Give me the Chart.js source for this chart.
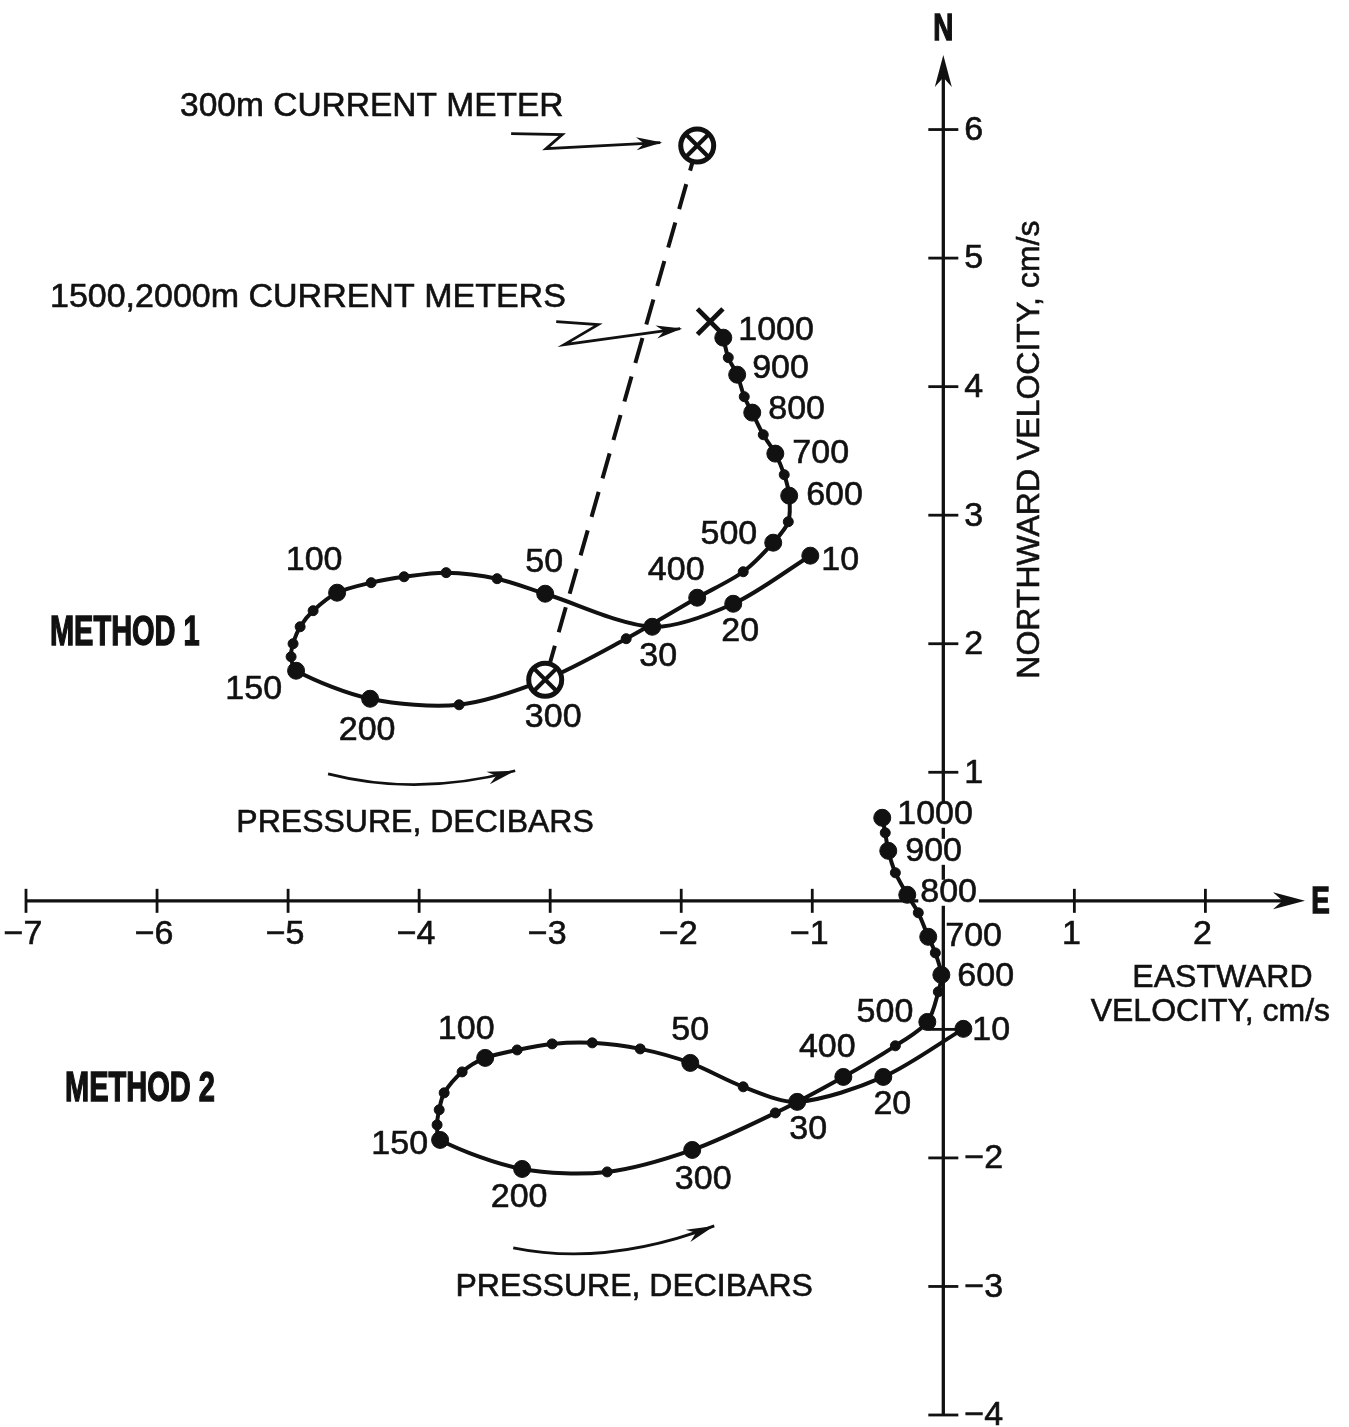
<!DOCTYPE html>
<html>
<head>
<meta charset="utf-8">
<script src="https://cdn.jsdelivr.net/npm/chart.js@4.4.1/dist/chart.umd.min.js"></script>
<style>
html,body{margin:0;padding:0;background:#fff;overflow:hidden;}
#c{display:block;}
</style>
</head>
<body>
<canvas id="c" width="1349" height="1427"></canvas>
<script>
// ---------------- DATA ----------------
const labeledPressures = [10,20,30,50,100,150,200,300,400,500,600,700,800,900,1000];

// Method 1 (pressure in decibars, eastward / northward velocity in cm/s)
const m1Pressure = [10,20,30,50,60,70,80,90,100,110,120,130,140,150,200,250,300,350,400,450,500,550,600,650,700,750,800,850,900,950,1000];
const m1East  = [-1.015,-1.603,-2.221,-3.038,-3.405,-3.794,-4.115,-4.366,-4.626,-4.809,-4.908,-4.962,-4.977,-4.939,-4.374,-3.695,-3.038,-2.420,-1.878,-1.527,-1.298,-1.183,-1.176,-1.214,-1.282,-1.374,-1.458,-1.519,-1.573,-1.641,-1.679];
const m1North = [2.685,2.311,2.132,2.389,2.506,2.553,2.521,2.475,2.397,2.257,2.132,2.000,1.899,1.790,1.572,1.525,1.720,2.039,2.358,2.560,2.786,2.949,3.152,3.315,3.479,3.626,3.798,3.922,4.093,4.226,4.381];

// Method 2
const m2Pressure = [10,20,30,40,50,60,70,80,90,100,110,120,130,140,150,200,250,300,350,400,450,500,550,600,650,700,750,800,850,900,950,1000];
const m2East  = [0.153,-0.458,-1.115,-1.527,-1.931,-2.313,-2.679,-2.985,-3.252,-3.496,-3.672,-3.809,-3.847,-3.863,-3.840,-3.214,-2.565,-1.916,-1.282,-0.763,-0.366,-0.122,-0.038,-0.015,-0.061,-0.115,-0.191,-0.275,-0.366,-0.420,-0.443,-0.466];
const m2North = [-0.996,-1.370,-1.564,-1.447,-1.261,-1.152,-1.105,-1.113,-1.160,-1.222,-1.331,-1.494,-1.626,-1.743,-1.860,-2.086,-2.109,-1.938,-1.650,-1.370,-1.128,-0.942,-0.708,-0.576,-0.405,-0.280,-0.093,0.047,0.218,0.389,0.529,0.646];

// Current meters
const meter300East = [-1.878];
const meter300North = [5.875];
const meterDeepEast = [-1.779];
const meterDeepNorth = [4.506];

// Axes
const xTicks = [-7,-6,-5,-4,-3,-2,-1,1,2];
const xTickLabels = ['\u22127','\u22126','\u22125','\u22124','\u22123','\u22122','\u22121','1','2'];
const yTicks = [-4,-3,-2,-1,1,2,3,4,5,6];
const yTickLabels = ['\u22124','\u22123','\u22122','','1','2','3','4','5','6'];
const xRange = [-7, 2.76];
const yRange = [-4, 6.58];

// ---------------- BUILD ----------------
const INK = '#111';
const FONT = '"Liberation Sans", Arial, sans-serif';
const pts = (xs, ys) => xs.map((x, i) => ({x, y: ys[i]}));
const m1Index300 = m1Pressure.indexOf(300);

const m1Radius = m1Pressure.map(p => p === 300 ? 0 : (labeledPressures.includes(p) ? 8.5 : 5));
const m2Radius = m2Pressure.map(p => labeledPressures.includes(p) ? 8.5 : 5);

// label placement (align, dx, dy in px) and which labels knock out what lies under them
const m1LabelPos = {10:['left',11,5],20:['center',7,28],30:['center',6,30],50:['center',-1,-31],100:['center',-23,-32],150:['right',-14,19],200:['center',-3,32],300:['center',8,38],400:['center',-21,-27],500:['right',-16,-8],600:['left',17,0],700:['left',17,0],800:['left',16,-3],900:['left',15,-6],1000:['left',15,-7]};
const m2LabelPos = {10:['left',9,2],20:['center',9,28],30:['center',11,28],50:['center',0,-32],100:['center',-19,-28],150:['right',-12,5],200:['center',-3,29],300:['center',11,30],400:['center',-16,-29],500:['right',-14,-9],600:['left',16,2],700:['left',17,0],800:['left',13,-2],900:['left',17,1],1000:['left',15,-3]};
const m2Knockout = [800,900,1000];

const annotations = [
  {t:'300m CURRENT METER', x:-5.824, y:6.179, align:'left', size:33.5},
  {t:'1500,2000m CURRENT METERS', x:-6.817, y:4.693, align:'left', size:34},
  {t:'METHOD 1', x:-6.817, y:2.078, align:'left', size:42, bold:true, sx:0.69},
  {t:'METHOD 2', x:-6.702, y:-1.471, align:'left', size:42, bold:true, sx:0.69},
  {t:'PRESSURE, DECIBARS', x:-4.031, y:0.607, align:'center', size:32},
  {t:'PRESSURE, DECIBARS', x:-2.359, y:-3.004, align:'center', size:32},
  {t:'EASTWARD', x:2.130, y:-0.599, align:'center', size:32},
  {t:'VELOCITY, cm/s', x:2.038, y:-0.864, align:'center', size:32},
  {t:'NORTHWARD VELOCITY, cm/s', x:0.664, y:3.510, align:'center', size:32, rot:-Math.PI/2},
  {t:'N', x:0, y:6.778, align:'center', size:37, bold:true, sx:0.75},
  {t:'E', x:2.878, y:-0.016, align:'center', size:37, bold:true, sx:0.75}
];
const zigArrows = [
  [[-3.298,5.969],[-2.908,5.961],[-3.031,5.852],[-2.160,5.899]],
  [[-2.954,4.506],[-2.634,4.482],[-2.893,4.327],[-2.008,4.451]]
];
const curvedArrows = [
  [[-4.695,0.988],[-4.008,0.809],[-3.267,1.012]],
  [[-3.282,-2.700],[-2.573,-2.848],[-1.748,-2.529]]
];

function arrowHead(ctx, tx, ty, ang, len, half) {
  const c = Math.cos(ang), s = Math.sin(ang);
  const bx = tx - len * c, by = ty - len * s;
  const nx = -s, ny = c;
  ctx.beginPath();
  ctx.moveTo(tx, ty);
  ctx.lineTo(bx + half * nx, by + half * ny);
  ctx.lineTo(tx - 0.7 * len * c, ty - 0.7 * len * s);
  ctx.lineTo(bx - half * nx, by - half * ny);
  ctx.closePath();
  ctx.fill();
}

function inkText(ctx, str, x, y) {
  ctx.fillText(str, x, y);
  ctx.strokeText(str, x, y);
}

const axesPlugin = {
  id: 'hodoAxes',
  beforeDatasetsDraw(chart) {
    const {ctx} = chart;
    const X = chart.scales.x, Y = chart.scales.y;
    const ox = X.getPixelForValue(0), oy = Y.getPixelForValue(0);
    const xl = X.getPixelForValue(X.min), xr = X.getPixelForValue(X.max);
    const yb = Y.getPixelForValue(Y.min), yt = Y.getPixelForValue(Y.max);
    ctx.save();
    ctx.strokeStyle = INK; ctx.fillStyle = INK; ctx.lineWidth = 3.3;
    ctx.beginPath(); ctx.moveTo(xl, oy); ctx.lineTo(xr - 18, oy); ctx.stroke();
    ctx.beginPath(); ctx.moveTo(ox, yb); ctx.lineTo(ox, yt + 18); ctx.stroke();
    arrowHead(ctx, xr, oy, 0, 32, 8.5);
    arrowHead(ctx, ox, yt, -Math.PI / 2, 32, 8.5);
    ctx.lineWidth = 2.8;
    xTicks.forEach(v => {
      const p = X.getPixelForValue(v);
      ctx.beginPath(); ctx.moveTo(p, oy - 12); ctx.lineTo(p, oy + 12); ctx.stroke();
    });
    yTicks.forEach(v => {
      const p = Y.getPixelForValue(v);
      ctx.beginPath(); ctx.moveTo(ox - 15, p); ctx.lineTo(ox + 15, p); ctx.stroke();
    });
    ctx.font = '34px ' + FONT;
    ctx.lineWidth = 0.6;
    ctx.textBaseline = 'middle';
    ctx.textAlign = 'center';
    xTicks.forEach((v, i) => {
      inkText(ctx, xTickLabels[i], X.getPixelForValue(v) - 3, oy + 34);
    });
    ctx.textAlign = 'left';
    yTicks.forEach((v, i) => {
      if (yTickLabels[i]) inkText(ctx, yTickLabels[i], ox + 21, Y.getPixelForValue(v) + 1);
    });
    ctx.restore();
  }
};

const labelPlugin = {
  id: 'hodoLabels',
  afterDatasetsDraw(chart) {
    const {ctx} = chart;
    const X = chart.scales.x, Y = chart.scales.y;
    ctx.save();
    ctx.fillStyle = INK; ctx.strokeStyle = INK; ctx.lineWidth = 0.6;
    ctx.textBaseline = 'middle';
    ctx.font = '34px ' + FONT;
    const drawSet = (press, ex, no, pos, knock) => {
      press.forEach((p, i) => {
        const spec = pos[p];
        if (!spec) return;
        const [al, dx, dy] = spec;
        const x = X.getPixelForValue(ex[i]) + dx, y = Y.getPixelForValue(no[i]) + dy;
        const str = String(p);
        if (knock && knock.includes(p)) {
          const w = ctx.measureText(str).width;
          let left = al === 'left' ? x : (al === 'right' ? x - w : x - w / 2);
          ctx.save(); ctx.fillStyle = '#fff';
          ctx.fillRect(left - 2, y - 13, w + 4, 26);
          ctx.restore();
        }
        ctx.textAlign = al;
        inkText(ctx, str, x, y);
      });
    };
    drawSet(m1Pressure, m1East, m1North, m1LabelPos, null);
    drawSet(m2Pressure, m2East, m2North, m2LabelPos, m2Knockout);

    annotations.forEach(a => {
      const x = X.getPixelForValue(a.x), y = Y.getPixelForValue(a.y);
      ctx.save();
      ctx.translate(x, y);
      if (a.rot) ctx.rotate(a.rot);
      if (a.sx) ctx.scale(a.sx, 1);
      ctx.font = (a.bold ? 'bold ' : '') + a.size + 'px ' + FONT;
      ctx.textAlign = a.align;
      ctx.textBaseline = 'middle';
      ctx.lineWidth = a.bold ? 1.4 : 0.6;
      inkText(ctx, a.t, 0, 0);
      ctx.restore();
    });

    ctx.lineWidth = 2.8; ctx.lineJoin = 'miter';
    zigArrows.forEach(arr => {
      const P = arr.map(([a, b]) => [X.getPixelForValue(a), Y.getPixelForValue(b)]);
      ctx.beginPath();
      ctx.moveTo(P[0][0], P[0][1]);
      for (let i = 1; i < P.length; i++) ctx.lineTo(P[i][0], P[i][1]);
      ctx.stroke();
      const n = P.length;
      const ang = Math.atan2(P[n-1][1] - P[n-2][1], P[n-1][0] - P[n-2][0]);
      arrowHead(ctx, P[n-1][0] + 2 * Math.cos(ang), P[n-1][1] + 2 * Math.sin(ang), ang, 26, 6.5);
    });
    curvedArrows.forEach(arr => {
      const P = arr.map(([a, b]) => [X.getPixelForValue(a), Y.getPixelForValue(b)]);
      ctx.beginPath();
      ctx.moveTo(P[0][0], P[0][1]);
      ctx.quadraticCurveTo(P[1][0], P[1][1], P[2][0], P[2][1]);
      ctx.stroke();
      const ang = Math.atan2(P[2][1] - P[1][1], P[2][0] - P[1][0]);
      arrowHead(ctx, P[2][0], P[2][1], ang, 28, 6.5);
    });
    ctx.restore();
  }
};

const datasets = [
  { // dashed link between current meter and 300 dbar
    data: [{x: meter300East[0], y: meter300North[0]}, {x: m1East[m1Index300], y: m1North[m1Index300]}],
    showLine: true, borderColor: INK, borderWidth: 4, borderDash: [26, 14],
    pointRadius: 0, order: 10
  },
  {
    label: 'Method 1',
    data: pts(m1East, m1North), showLine: true, tension: 0.3,
    borderColor: INK, borderWidth: 4, backgroundColor: INK,
    pointBackgroundColor: INK, pointBorderColor: INK, pointBorderWidth: 1,
    pointRadius: m1Radius, order: 5
  },
  {
    label: 'Method 2',
    data: pts(m2East, m2North), showLine: true, tension: 0.3,
    borderColor: INK, borderWidth: 4, backgroundColor: INK,
    pointBackgroundColor: INK, pointBorderColor: INK, pointBorderWidth: 1,
    pointRadius: m2Radius, order: 5
  },
  { // circles of the crossed-circle markers (300m meter & 300 dbar)
    data: [{x: meter300East[0], y: meter300North[0]}, {x: m1East[m1Index300], y: m1North[m1Index300]}],
    showLine: false, pointStyle: 'circle', pointRadius: 16.5,
    pointBackgroundColor: '#fff', pointBorderColor: INK, pointBorderWidth: 5, order: 2
  },
  { // crosses of the crossed-circle markers
    data: [{x: meter300East[0], y: meter300North[0]}, {x: m1East[m1Index300], y: m1North[m1Index300]}],
    showLine: false, pointStyle: 'crossRot', pointRadius: 15,
    pointBorderColor: INK, pointBorderWidth: 4.2, order: 1
  },
  { // 1500, 2000 m current meters
    data: pts(meterDeepEast, meterDeepNorth),
    showLine: false, pointStyle: 'crossRot', pointRadius: 18,
    pointBorderColor: INK, pointBorderWidth: 4.8, order: 1
  }
];

new Chart(document.getElementById('c'), {
  type: 'scatter',
  data: { datasets },
  options: {
    responsive: false,
    animation: false,
    events: [],
    layout: { autoPadding: false, padding: { left: 26, right: 44, top: 55, bottom: 12 } },
    plugins: { legend: { display: false }, tooltip: { enabled: false } },
    scales: {
      x: { type: 'linear', min: xRange[0], max: xRange[1], display: false },
      y: { type: 'linear', min: yRange[0], max: yRange[1], display: false }
    }
  },
  plugins: [axesPlugin, labelPlugin]
});
</script>
</body>
</html>
